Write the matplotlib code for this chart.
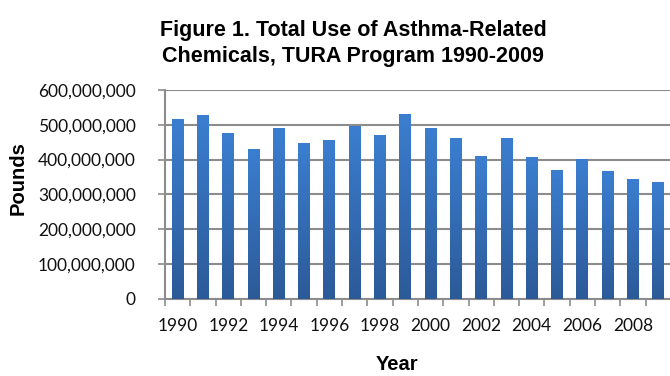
import numpy as np
import matplotlib
matplotlib.use("Agg")
import matplotlib.pyplot as plt
from matplotlib.ticker import FuncFormatter, FixedLocator
from matplotlib.colors import LinearSegmentedColormap

# データ
years = list(range(1990, 2010))
pounds = [517e6, 528e6, 476e6, 430e6, 491e6, 448e6, 456e6, 497e6, 471e6, 531e6,
          491e6, 462e6, 410e6, 462e6, 407e6, 370e6, 402e6, 367e6, 344e6, 335e6]
year_labels = [str(y) if y % 2 == 0 else "" for y in years]

title = "Figure 1. Total Use of Asthma-Related\nChemicals, TURA Program 1990-2009"

fig = plt.figure(figsize=(6.7, 3.76), dpi=100)
ax = fig.add_axes([0.2463, 0.2056, 0.755, 0.555])

x = np.arange(len(years))
bars = ax.bar(x, pounds, width=0.47, color="#3570BC", zorder=3)

# グラデーション
cmap = LinearSegmentedColormap.from_list("blu", ["#2C5A98", "#3B7ED0"])
grad = np.linspace(0, 1, 256).reshape(-1, 1)
for b in bars:
    x0, y0 = b.get_x(), b.get_y()
    w, h = b.get_width(), b.get_height()
    im = ax.imshow(grad, cmap=cmap, origin="lower", aspect="auto",
                   extent=[x0, x0 + w, y0, y0 + h], zorder=3)
    im.set_clip_path(b)
    b.set_alpha(0)

ax.set_xlim(-0.5, len(years) - 0.5)
ax.set_ylim(0, 600e6)
ax.set_yticks(np.arange(0, 600e6 + 1, 100e6))
ax.yaxis.set_major_formatter(FuncFormatter(lambda v, p: f"{int(v):,}"))
ax.yaxis.grid(True, color="#8C8C8C", linewidth=1.5, zorder=1)

ax.set_xticks(x)
ax.set_xticklabels(year_labels)
ax.xaxis.set_minor_locator(FixedLocator(np.arange(-0.5, len(years), 1.0)))
ax.tick_params(axis="x", which="major", length=0, pad=14)
ax.tick_params(axis="x", which="minor", length=5, width=1.2, color="#8C8C8C")
ax.tick_params(axis="y", length=5, width=1.2, color="#8C8C8C", pad=16)

for lbl in ax.get_xticklabels() + ax.get_yticklabels():
    lbl.set_fontfamily("Lato")
    lbl.set_fontsize(12.5)
    lbl.set_color("#111111")

for s in ["top", "right"]:
    ax.spines[s].set_visible(False)
for s in ["left", "bottom"]:
    ax.spines[s].set_color("#8C8C8C")
    ax.spines[s].set_linewidth(1.5)

fig.text(0.527, 1 - 62 / 376, title, ha="center", va="baseline", fontsize=15.5,
         fontweight="bold", family="Liberation Sans", linespacing=1.3)
fig.text(0.027, 0.527, "Pounds", rotation=90, ha="center", va="center",
         fontsize=14.5, fontweight="bold", family="Liberation Sans")
fig.text(0.593, 0.006, "Year", ha="center", va="bottom",
         fontsize=14.5, fontweight="bold", family="Liberation Sans")

fig.savefig("out.png", dpi=100)
